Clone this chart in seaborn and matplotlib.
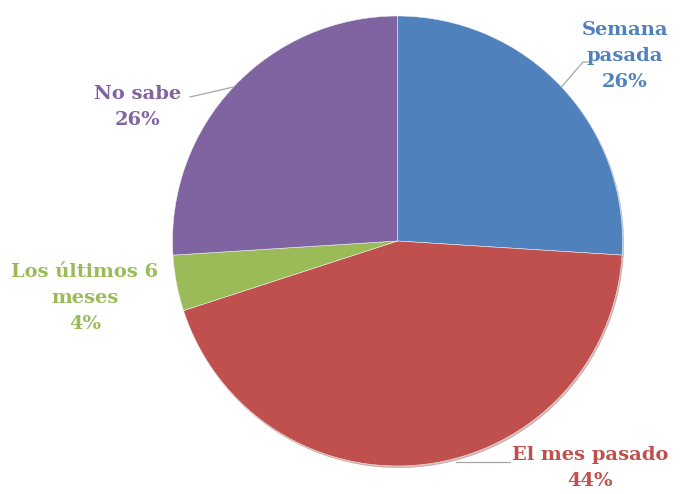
import matplotlib
matplotlib.use("Agg")
import matplotlib.pyplot as plt
import seaborn as sns
import numpy as np

sns.set_theme(style="white")

categories = ["Semana\npasada", "El mes pasado", "Los últimos 6\nmeses", "No sabe"]
values = [26, 44, 4, 26]
colors = ["#4F81BD", "#C0504D", "#9BBB59", "#8064A2"]

W, H = 683, 494
fig = plt.figure(figsize=(W / 100, H / 100), dpi=100)
ax = fig.add_axes([0, 0, 1, 1])

cx, cy, r = 397.5, H - 241, 225
wedges, _ = ax.pie(values, colors=colors, startangle=90, counterclock=False,
                   center=(cx, cy), radius=r,
                   wedgeprops=dict(edgecolor="#f0f0f0", linewidth=0.4),
                   shadow=dict(ox=0.8, oy=-1.2, shade=0.3, alpha=0.35))
ax.set_xlim(0, W)
ax.set_ylim(0, H)
ax.set_aspect("equal")
ax.axis("off")

# label anchors (text centres) and leader-line end points
label_pos = [(625, H - 56), (590, H - 468), (85, H - 298), (138, H - 107)]
line_end = [(589, H - 62), (510, H - 462), None, (190, H - 97)]

for w, lab, v, col, pos, le in zip(wedges, categories, values, colors, label_pos, line_end):
    mid = np.deg2rad((w.theta1 + w.theta2) / 2)
    edge = (cx + r * np.cos(mid), cy + r * np.sin(mid))
    ax.text(pos[0], pos[1], f"{lab}\n{v}%", ha="center", va="center",
            color=col, fontsize=14, fontweight="bold", family="DejaVu Serif",
            linespacing=1.55)
    if le is not None:
        if lab.startswith("Semana"):
            knee = (583, H - 62)
            ax.plot([edge[0], knee[0], le[0]], [edge[1], knee[1], le[1]],
                    color="#a6a6a6", lw=0.9)
        elif lab.startswith("El mes"):
            ax.plot([edge[0] + 30, le[0]], [le[1], le[1]], color="#a6a6a6", lw=0.9)
        else:
            ax.plot([le[0], edge[0]], [le[1], edge[1]], color="#a6a6a6", lw=0.9)

fig.savefig("out.png", dpi=100)
